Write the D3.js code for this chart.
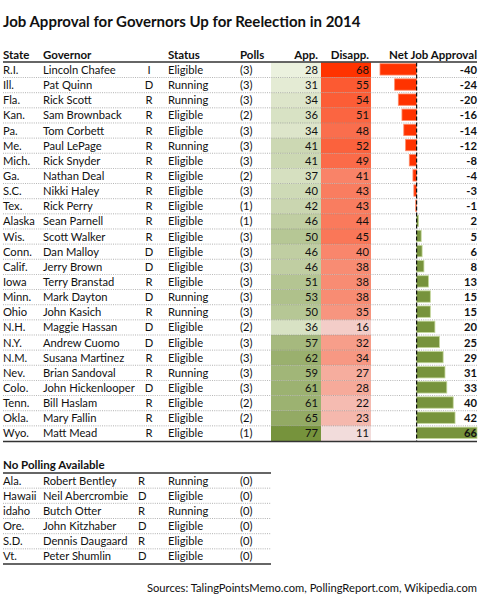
<!DOCTYPE html>
<html>
<head>
<meta charset="utf-8">
<script src="https://cdnjs.cloudflare.com/ajax/libs/d3/7.8.5/d3.min.js"></script>
<style>
  body { margin: 0; background: #fff; }
  svg text { font-family: Lato, "Open Sans", sans-serif; fill: #111; }
</style>
</head>
<body>
<svg id="drawing_region"></svg>
<script>
// polled governors
const states = ["R.I.", "Ill.", "Fla.", "Kan.", "Pa.", "Me.", "Mich.", "Ga.", "S.C.", "Tex.", "Alaska", "Wis.", "Conn.", "Calif.", "Iowa", "Minn.", "Ohio", "N.H.", "N.Y.", "N.M.", "Nev.", "Colo.", "Tenn.", "Okla.", "Wyo."];
const governors = ["Lincoln Chafee", "Pat Quinn", "Rick Scott", "Sam Brownback", "Tom Corbett", "Paul LePage", "Rick Snyder", "Nathan Deal", "Nikki Haley", "Rick Perry", "Sean Parnell", "Scott Walker", "Dan Malloy", "Jerry Brown", "Terry Branstad", "Mark Dayton", "John Kasich", "Maggie Hassan", "Andrew Cuomo", "Susana Martinez", "Brian Sandoval", "John Hickenlooper", "Bill Haslam", "Mary Fallin", "Matt Mead"];
const parties = ["I", "D", "R", "R", "R", "R", "R", "R", "R", "R", "R", "R", "D", "D", "R", "D", "R", "D", "D", "R", "R", "D", "R", "R", "R"];
const statuses = ["Eligible", "Running", "Running", "Eligible", "Eligible", "Running", "Eligible", "Eligible", "Eligible", "Eligible", "Eligible", "Eligible", "Eligible", "Eligible", "Eligible", "Running", "Running", "Eligible", "Eligible", "Eligible", "Running", "Eligible", "Eligible", "Eligible", "Eligible"];
const polls = [3, 3, 3, 2, 3, 3, 3, 2, 3, 1, 1, 3, 3, 3, 3, 3, 3, 2, 3, 3, 3, 3, 2, 2, 1];
const approve = [28, 31, 34, 36, 34, 41, 41, 37, 40, 42, 46, 50, 46, 46, 51, 53, 50, 36, 57, 62, 59, 61, 61, 65, 77];
const disapprove = [68, 55, 54, 51, 48, 52, 49, 41, 43, 43, 44, 45, 40, 38, 38, 38, 35, 16, 32, 34, 27, 28, 22, 23, 11];
const netApproval = [-40, -24, -20, -16, -14, -12, -8, -4, -3, -1, 2, 5, 6, 8, 13, 15, 15, 20, 25, 29, 31, 33, 40, 42, 66];

// governors without polling
const npStates = ["Ala.", "Hawaii", "idaho", "Ore.", "S.D.", "Vt."];
const npGovernors = ["Robert Bentley", "Neil Abercrombie", "Butch Otter", "John Kitzhaber", "Dennis Daugaard", "Peter Shumlin"];
const npParties = ["R", "D", "R", "D", "R", "D"];
const npStatuses = ["Running", "Eligible", "Running", "Eligible", "Eligible", "Eligible"];
const npPolls = [0, 0, 0, 0, 0, 0];

const headers = ["State", "Governor", "Status", "Polls", "App.", "Disapp.", "Net Job Approval"];
const title = "Job Approval for Governors Up for Reelection in 2014";
const npTitle = "No Polling Available";
const sources = "Sources: TalingPointsMemo.com, PollingReport.com, Wikipedia.com";

const rows = states.map((s, i) => ({
    state: s, governor: governors[i], party: parties[i], status: statuses[i],
    polls: polls[i], app: approve[i], dis: disapprove[i], net: netApproval[i]
}));
const npRows = npStates.map((s, i) => ({
    state: s, governor: npGovernors[i], party: npParties[i], status: npStatuses[i], polls: npPolls[i]
}));

const W = 480, H = 606;
const fs = 11.2;
const col = { state: 3, gov: 43, party: 149, status: 168, polls: 240, appL: 271, appR: 321, disR: 371, right: 477 };

const svg = d3.select('#drawing_region')
    .attr('width', W)
    .attr('height', H);

svg.append('text')
    .attr('x', 3)
    .attr('y', 27)
    .style('font-size', '15px')
    .style('font-weight', 'bold')
    .text(title);

// header
const hx = [col.state, col.gov, col.status, col.polls, col.appR - 3, col.disR - 2, col.right];
const ha = ['start', 'start', 'start', 'start', 'end', 'end', 'end'];
svg.selectAll('.hdr')
    .data(headers)
    .enter()
    .append('text')
    .attr('class', 'hdr')
    .attr('x', (d, i) => hx[i])
    .attr('y', 58.5)
    .attr('text-anchor', (d, i) => ha[i])
    .style('font-size', (fs + 0.3) + 'px')
    .style('font-weight', 'bold')
    .text(d => d);

const y = d3.scaleBand()
    .domain(d3.range(rows.length))
    .range([62.4, 441]);

const appColor = d3.scaleLinear()
    .domain([d3.min(approve), d3.max(approve)])
    .range(['#ebf1de', '#76933c']);
const disColor = d3.scaleLinear()
    .domain([d3.min(disapprove), d3.max(disapprove)])
    .range(['#f2dcdb', '#ff3300']);

const x = d3.scaleLinear()
    .domain([d3.min(netApproval), d3.max(netApproval)])
    .range([380, col.right]);

// coloured cells
svg.selectAll('.appcell')
    .data(rows)
    .enter()
    .append('rect')
    .attr('x', col.appL)
    .attr('y', (d, i) => y(i))
    .attr('width', col.appR - col.appL)
    .attr('height', y.bandwidth())
    .attr('fill', d => appColor(d.app));
svg.selectAll('.discell')
    .data(rows)
    .enter()
    .append('rect')
    .attr('x', col.appR)
    .attr('y', (d, i) => y(i))
    .attr('width', col.disR - col.appR)
    .attr('height', y.bandwidth())
    .attr('fill', d => disColor(d.dis));

// dotted separators
svg.selectAll('.sep')
    .data(d3.range(1, rows.length))
    .enter()
    .append('line')
    .attr('x1', 3).attr('x2', col.right)
    .attr('y1', i => y(i)).attr('y2', i => y(i))
    .attr('stroke', '#8f8f8f')
    .attr('stroke-width', 0.8)
    .attr('stroke-dasharray', '1,1.2')
    .attr('opacity', 0.85);

// net approval bars
svg.selectAll('.bar')
    .data(rows)
    .enter()
    .append('rect')
    .attr('x', d => Math.min(x(d.net), x(0)))
    .attr('y', (d, i) => y(i) + 1.3)
    .attr('width', d => Math.abs(x(d.net) - x(0)))
    .attr('height', y.bandwidth() - 3.8)
    .attr('fill', d => d.net < 0 ? '#ff3300' : '#77933c')
    .attr('stroke', d => d.net < 0 ? '#ff8a66' : '#c4d79b')
    .attr('stroke-width', 0.8);

svg.append('line')
    .attr('x1', x(0)).attr('x2', x(0))
    .attr('y1', y(0)).attr('y2', 441)
    .attr('stroke', '#111')
    .attr('stroke-width', 1.2)
    .attr('stroke-dasharray', '4,2');

// row texts
const rowG = svg.selectAll('.row')
    .data(rows)
    .enter()
    .append('g')
    .attr('class', 'row')
    .attr('transform', (d, i) => `translate(0, ${y(i) + y.bandwidth() / 2 + 4})`)
    .style('font-size', fs + 'px');

rowG.append('text').attr('x', col.state).text(d => d.state);
rowG.append('text').attr('x', col.gov).text(d => d.governor);
rowG.append('text').attr('x', col.party).attr('text-anchor', 'middle').text(d => d.party);
rowG.append('text').attr('x', col.status).text(d => d.status);
rowG.append('text').attr('x', col.polls).text(d => `(${d.polls})`);
rowG.append('text').attr('x', col.appR - 3).attr('text-anchor', 'end').text(d => d.app);
rowG.append('text').attr('x', col.disR - 2).attr('text-anchor', 'end').text(d => d.dis);
rowG.append('text').attr('x', col.right).attr('text-anchor', 'end')
    .style('font-weight', 'bold').text(d => d.net);

// top / bottom rules
svg.append('line').attr('x1', 3).attr('x2', col.right).attr('y1', 62).attr('y2', 62)
    .attr('stroke', '#333').attr('stroke-width', 1.4);
svg.append('line').attr('x1', 3).attr('x2', col.right).attr('y1', 441.5).attr('y2', 441.5)
    .attr('stroke', '#333').attr('stroke-width', 1.4);

// no polling table
svg.append('text')
    .attr('x', 3)
    .attr('y', 469)
    .style('font-size', (fs + 0.3) + 'px')
    .style('font-weight', 'bold')
    .text(npTitle);

const y2 = d3.scaleBand()
    .domain(d3.range(npRows.length))
    .range([473, 564]);

svg.selectAll('.npsep')
    .data(d3.range(1, npRows.length))
    .enter()
    .append('line')
    .attr('x1', 3).attr('x2', col.appL)
    .attr('y1', i => y2(i)).attr('y2', i => y2(i))
    .attr('stroke', '#8f8f8f')
    .attr('stroke-width', 0.8)
    .attr('stroke-dasharray', '1,1.2')
    .attr('opacity', 0.85);

const npG = svg.selectAll('.nprow')
    .data(npRows)
    .enter()
    .append('g')
    .attr('class', 'nprow')
    .attr('transform', (d, i) => `translate(0, ${y2(i) + y2.bandwidth() / 2 + 4})`)
    .style('font-size', fs + 'px');

npG.append('text').attr('x', col.state).text(d => d.state);
npG.append('text').attr('x', col.gov).text(d => d.governor);
npG.append('text').attr('x', 138).text(d => d.party);
npG.append('text').attr('x', col.status).text(d => d.status);
npG.append('text').attr('x', col.polls).text(d => `(${d.polls})`);

svg.append('line').attr('x1', 3).attr('x2', col.appL).attr('y1', 473).attr('y2', 473)
    .attr('stroke', '#333').attr('stroke-width', 1.4);
svg.append('line').attr('x1', 3).attr('x2', col.appL).attr('y1', 564).attr('y2', 564)
    .attr('stroke', '#333').attr('stroke-width', 1.4);

svg.append('text')
    .attr('x', col.right)
    .attr('y', 592)
    .attr('text-anchor', 'end')
    .style('font-size', fs + 'px')
    .text(sources);
</script>
</body>
</html>
